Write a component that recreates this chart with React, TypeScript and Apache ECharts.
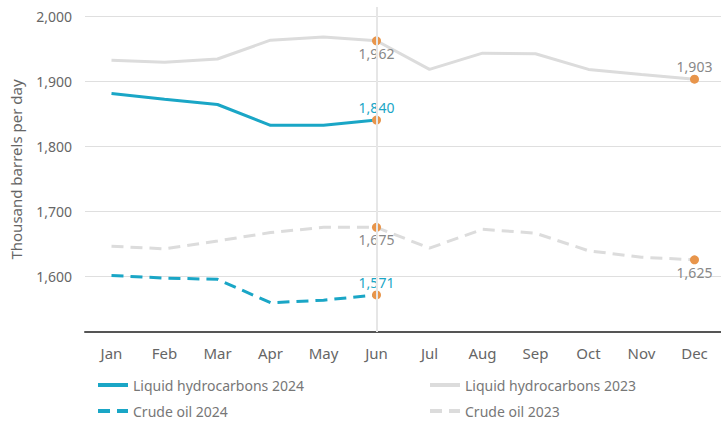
import React, { useEffect, useRef } from "react";
import * as echarts from "echarts";

const months = ["Jan", "Feb", "Mar", "Apr", "May", "Jun", "Jul", "Aug", "Sep", "Oct", "Nov", "Dec"];
const liquid2024 = [1881, 1872, 1864, 1832, 1832, 1840];
const crude2024 = [1601, 1597, 1595, 1559, 1563, 1571];
const liquid2023 = [1932, 1929, 1934, 1963, 1968, 1962, 1918, 1943, 1942, 1918, 1910, 1903];
const crude2023 = [1646, 1642, 1654, 1667, 1675, 1675, 1643, 1672, 1666, 1639, 1629, 1625];
const seriesNames = ["Liquid hydrocarbons 2024", "Crude oil 2024", "Liquid hydrocarbons 2023", "Crude oil 2023"];

const TEAL = "#1AA6C6";
const GRAY = "#DCDCDC";
const ORANGE = "#E8954B";
const FONT = "Noto Sans";

function buildData(values: number[], labelColor: string, marks: { [k: number]: "top" | "bottom" }) {
  return values.map((v, i) =>
    marks[i]
      ? {
          value: v,
          symbol: "circle",
          symbolSize: 9,
          itemStyle: { color: ORANGE },
          label: {
            show: true,
            position: marks[i],
            distance: 1,
            color: labelColor,
            fontSize: 14,
            fontFamily: FONT,
            formatter: (p: any) => Number(p.value).toLocaleString("en-US"),
          },
        }
      : { value: v, symbol: "none" }
  );
}

const legendBase = {
  orient: "vertical",
  top: 377,
  height: 60,
  padding: 0,
  itemWidth: 30,
  itemHeight: 10,
  itemGap: 10,
  itemStyle: { opacity: 0 },
  lineStyle: { width: 4 },
  textStyle: { color: "#777", fontSize: 14, lineHeight: 16, fontFamily: FONT },
};

export default function App() {
  const ref = useRef<HTMLDivElement>(null);
  useEffect(() => {
    if (!ref.current) return;
    const chart = echarts.init(ref.current, undefined, { renderer: "svg" });
    chart.setOption({
      animation: false,
      textStyle: { fontFamily: FONT },
      grid: { left: 79, top: 7, width: 652, height: 325 },
      xAxis: {
        type: "category",
        data: months,
        boundaryGap: true,
        axisLine: { lineStyle: { color: "#555", width: 2 } },
        axisTick: { show: false },
        axisLabel: { color: "#666", fontSize: 15, margin: 13, fontFamily: FONT },
        splitLine: { show: false },
      },
      yAxis: {
        type: "value",
        min: 1514,
        max: 2014,
        splitNumber: 5,
        name: "Thousand barrels per day",
        nameLocation: "middle",
        nameGap: 62,
        nameTextStyle: { color: "#666", fontSize: 15, fontFamily: FONT },
        axisLine: { show: false },
        axisTick: { show: false },
        axisLabel: {
          color: "#666",
          fontSize: 14,
          margin: 13,
          fontFamily: FONT,
          formatter: (v: number) => (v % 100 === 0 ? v.toLocaleString("en-US") : ""),
        },
        splitLine: { lineStyle: { color: "#DFDFDF", width: 1 }, showMinLine: false, showMaxLine: false },
      },
      legend: [
        { ...legendBase, data: [seriesNames[0], seriesNames[1]], left: 96 },
        { ...legendBase, data: [seriesNames[2], seriesNames[3]], left: 428 },
      ],
      series: [
        {
          name: seriesNames[2],
          type: "line",
          symbol: "none",
          data: buildData(liquid2023, "#888", { 5: "bottom", 11: "top" }),
          lineStyle: { color: GRAY, width: 3 },
          itemStyle: { color: GRAY },
          z: 2,
          markLine: {
            silent: true,
            symbol: "none",
            label: { show: false },
            lineStyle: { color: "#E6E6E6", width: 2, type: "solid" },
            data: [{ xAxis: "Jun" }],
          },
        },
        {
          name: seriesNames[3],
          type: "line",
          symbol: "none",
          data: buildData(crude2023, "#888", { 5: "bottom", 11: "bottom" }),
          lineStyle: { color: GRAY, width: 3, type: [12, 7] },
          itemStyle: { color: GRAY },
          z: 2,
        },
        {
          name: seriesNames[0],
          type: "line",
          symbol: "none",
          data: buildData(liquid2024, TEAL, { 5: "top" }),
          lineStyle: { color: TEAL, width: 3 },
          itemStyle: { color: TEAL },
          z: 3,
        },
        {
          name: seriesNames[1],
          type: "line",
          symbol: "none",
          data: buildData(crude2024, TEAL, { 5: "top" }),
          lineStyle: { color: TEAL, width: 3, type: [12, 7] },
          itemStyle: { color: TEAL },
          z: 3,
        },
      ],
    });
    return () => chart.dispose();
  }, []);
  return <div ref={ref} style={{ width: 721, height: 421, position: "absolute", left: 0, top: 0 }} />;
}
